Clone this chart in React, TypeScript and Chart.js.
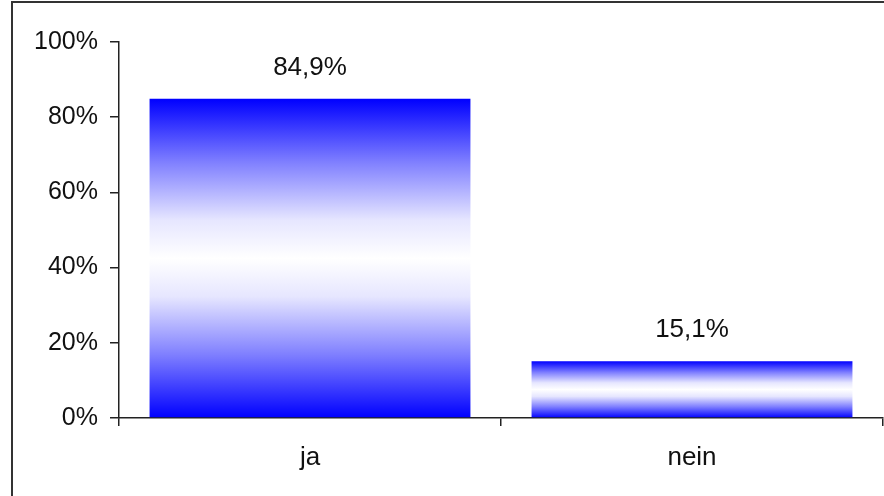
import React, { useEffect, useRef } from "react";
import { Chart, registerables } from "chart.js";

Chart.register(...registerables);

const categories = ["ja", "nein"];
const values = [84.9, 15.1];
const yTicks = [0, 20, 40, 60, 80, 100];

const FONT = "'Liberation Sans', Arial, sans-serif";
const TEXT = "#111";

const valueLabels = {
  id: "valueLabels",
  afterDatasetsDraw(chart: any) {
    const ctx = chart.ctx;
    const meta = chart.getDatasetMeta(0);
    ctx.save();
    ctx.font = `26px ${FONT}`;
    ctx.fillStyle = TEXT;
    ctx.textAlign = "center";
    ctx.textBaseline = "middle";
    meta.data.forEach((bar: any, i: number) => {
      const v = values[i];
      ctx.fillText(v.toFixed(1).replace(".", ",") + "%", bar.x, bar.y - 31);
    });
    ctx.restore();
  },
};

export default function App() {
  const ref = useRef<HTMLCanvasElement>(null);
  useEffect(() => {
    document.body.style.margin = "0";
    const chart = new Chart(ref.current!, {
      type: "bar",
      data: {
        labels: categories,
        datasets: [
          {
            data: values,
            backgroundColor: (c: any) => {
              const ch = c.chart;
              if (!ch.chartArea) return "#0000ff";
              const ys = ch.scales.y;
              const v = c.raw as number;
              const top = ys.getPixelForValue(v);
              const bot = ys.getPixelForValue(0);
              const g = ch.ctx.createLinearGradient(0, top, 0, bot);
              g.addColorStop(0, "#0000ff");
              g.addColorStop(0.2, "#8080ff");
              g.addColorStop(0.38, "#e6e6ff");
              g.addColorStop(0.5, "#ffffff");
              g.addColorStop(0.62, "#e6e6ff");
              g.addColorStop(0.8, "#8080ff");
              g.addColorStop(1, "#0000ff");
              return g;
            },
            borderWidth: 0,
            barPercentage: 0.84,
            categoryPercentage: 1,
          },
        ],
      },
      options: {
        animation: false,
        responsive: false,
        maintainAspectRatio: false,
        layout: { padding: { top: 42, right: 1, left: 0, bottom: 0 } },
        plugins: { legend: { display: false }, tooltip: { enabled: false } },
        scales: {
          x: {
            grid: {
              offset: true,
              drawOnChartArea: false,
              drawTicks: true,
              tickLength: 8,
              color: "#222",
              lineWidth: 1.5,
            },
            border: { display: true, color: "#222", width: 1.5 },
            ticks: { color: TEXT, font: { family: FONT, size: 26 }, padding: 16 },
            afterFit: (s: any) => {
              s.height = 78;
            },
          },
          y: {
            min: 0,
            max: 100,
            afterBuildTicks: (s: any) => {
              s.ticks = yTicks.map((v) => ({ value: v }));
            },
            grid: {
              drawOnChartArea: false,
              drawTicks: true,
              tickLength: 9,
              color: "#222",
              lineWidth: 1.5,
            },
            border: { display: true, color: "#222", width: 1.5 },
            ticks: {
              color: TEXT,
              font: { family: FONT, size: 25 },
              padding: 12,
              callback: (v: any) => v + "%",
            },
            afterFit: (s: any) => {
              s.width = 119;
            },
          },
        },
      },
      plugins: [valueLabels],
    });
    return () => chart.destroy();
  }, []);
  return (
    <div style={{ position: "relative", width: 884, height: 496, overflow: "hidden", background: "#fff" }}>
      <canvas ref={ref} width={884} height={496} style={{ position: "absolute", left: 0, top: 0 }} />
      <div
        style={{
          position: "absolute",
          left: 11,
          top: 1,
          width: 890,
          height: 493,
          borderLeft: "2px solid #333",
          borderTop: "2px solid #333",
          borderBottom: "1px solid #999",
          pointerEvents: "none",
        }}
      />
    </div>
  );
}
